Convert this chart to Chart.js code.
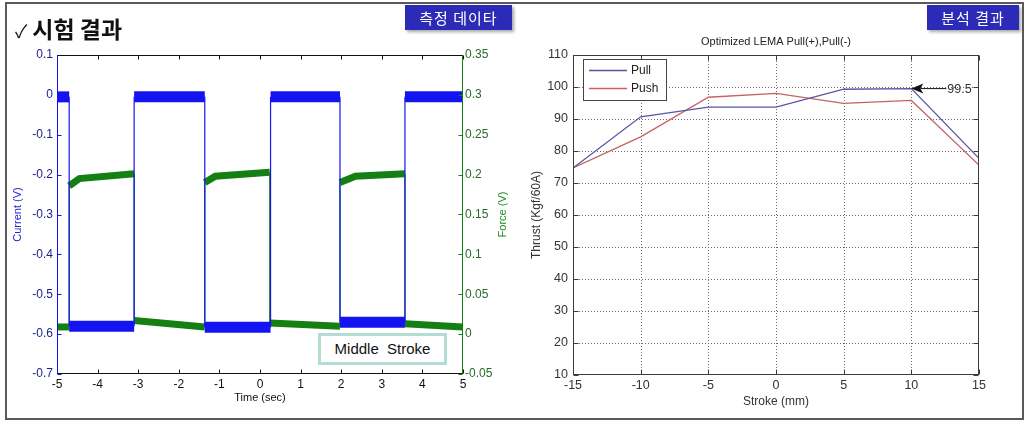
<!DOCTYPE html>
<html>
<head>
<meta charset="utf-8">
<script src="https://cdn.jsdelivr.net/npm/chart.js@4.4.1/dist/chart.umd.min.js"></script>
<style>
  html, body { margin: 0; padding: 0; background: #fff; }
  #wrap { position: relative; width: 1030px; height: 426px; overflow: hidden; font-family: "Liberation Sans", Arial, sans-serif; }
  .box { position: absolute; top: 0; width: 515px; height: 426px; }
  #leftBox { left: 0; }
  #rightBox { left: 515px; }
  #frame { position: absolute; left: 5px; top: 2px; width: 1019px; height: 418px; border: 2px solid #5a5a5a; box-sizing: border-box; }
  .tag { position: absolute; top: 5px; height: 25px; line-height: 25px; background: #2b2bb8; color: #fff;
         font-family: "Noto Sans CJK KR", sans-serif; font-size: 15px; text-align: center; letter-spacing: 1px;
         box-shadow: 2px 2px 3px rgba(0, 0, 0, 0.35); }
  #heading { position: absolute; left: 15px; top: 11px; font-family: "Noto Sans CJK KR", sans-serif; color: #111; white-space: nowrap; line-height: 34px; }
  #heading .chk { font-size: 18px; font-weight: normal; margin-right: 5px; }
  #heading .txt { font-size: 23px; font-weight: bold; }
  #stroke { position: absolute; left: 318px; top: 333px; width: 129px; height: 32px; box-sizing: border-box;
            border: 3px solid #b3dcd5; background: #fff; font-size: 15px; line-height: 26px; text-align: center; color: #111; }
</style>
</head>
<body>
<div id="wrap">
  <div class="box" id="leftBox"><canvas id="timeChart"></canvas></div>
  <div class="box" id="rightBox"><canvas id="thrustChart"></canvas></div>
  <div id="frame"></div>
  <div id="heading"><span class="chk">✓</span><span class="txt">시험 결과</span></div>
  <div class="tag" style="left:405px;width:107px;">측정 데이타</div>
  <div class="tag" style="left:927px;width:92px;">분석 결과</div>
  <div id="stroke">Middle&nbsp; Stroke</div>
</div>
<script>
const currentTime  = [-5, -4.70, -4.70, -3.10, -3.10, -1.36, -1.36, 0.26, 0.26, 1.97, 1.97, 3.57, 3.57, 5];
const currentValue = [-0.005, -0.005, -0.58, -0.58, -0.005, -0.005, -0.583, -0.583, -0.005, -0.005, -0.57, -0.57, -0.005, -0.005];

const forceTime  = [-5, -4.70, -4.70, -4.45, -3.10, -3.10, -1.36, -1.36, -1.10, 0.24, 0.24, 1.97, 1.97, 2.35, 3.57, 3.57, 5];
const forceValue = [0.009, 0.009, 0.186, 0.195, 0.201, 0.017, 0.009, 0.190, 0.198, 0.203, 0.014, 0.010, 0.190, 0.198, 0.201, 0.013, 0.009];

const timeTicks = [-5, -4, -3, -2, -1, 0, 1, 2, 3, 4, 5];
const timeLabels = ["-5", "-4", "-3", "-2", "-1", "0", "1", "2", "3", "4", "5"];
const currentTicks = [-0.7, -0.6, -0.5, -0.4, -0.3, -0.2, -0.1, 0, 0.1];
const currentLabels = ["-0.7", "-0.6", "-0.5", "-0.4", "-0.3", "-0.2", "-0.1", "0", "0.1"];
const forceTicks = [-0.05, 0, 0.05, 0.1, 0.15, 0.2, 0.25, 0.3, 0.35];
const forceLabels = ["-0.05", "0", "0.05", "0.1", "0.15", "0.2", "0.25", "0.3", "0.35"];

// right chart: thrust vs stroke
const strokePositions = [-15, -10, -5, 0, 5, 10, 15];
const pullThrust = [74.7, 90.7, 93.7, 93.7, 99.3, 99.5, 77.7];
const pushThrust = [74.7, 84.4, 96.8, 98.0, 94.9, 95.8, 75.6];
const strokeTicks = [-15, -10, -5, 0, 5, 10, 15];
const strokeLabels = ["-15", "-10", "-5", "0", "5", "10", "15"];
const thrustTicks = [10, 20, 30, 40, 50, 60, 70, 80, 90, 100, 110];
const thrustLabels = ["10", "20", "30", "40", "50", "60", "70", "80", "90", "100", "110"];
const peakStroke = 10;
const peakThrust = 99.5;

Chart.defaults.font.family = '"Liberation Sans", Arial, sans-serif';
Chart.defaults.animation = false;

const toXY = (xs, ys) => xs.map((x, i) => ({ x, y: ys[i] }));
const setTicks = (values) => (scale) => { scale.ticks = values.map((v) => ({ value: v })); };

// matlab style box with inward ticks, optional dotted grid
const matlabAxes = {
  id: "matlabAxes",
  beforeDatasetsDraw(chart, args, o) {
    if (!o.grid) return;
    const { ctx, chartArea: a, scales } = chart;
    ctx.save();
    ctx.strokeStyle = o.gridColor;
    ctx.lineWidth = 1;
    ctx.setLineDash([1, 2]);
    scales.x.ticks.forEach((t) => {
      const px = Math.round(scales.x.getPixelForValue(t.value)) + 0.5;
      if (px < a.left + 2 || px > a.right - 2) return;
      ctx.beginPath(); ctx.moveTo(px, a.top); ctx.lineTo(px, a.bottom); ctx.stroke();
    });
    scales.y.ticks.forEach((t) => {
      const py = Math.round(scales.y.getPixelForValue(t.value)) + 0.5;
      if (py < a.top + 2 || py > a.bottom - 2) return;
      ctx.beginPath(); ctx.moveTo(a.left, py); ctx.lineTo(a.right, py); ctx.stroke();
    });
    ctx.restore();
  },
  afterDatasetsDraw(chart, args, o) {
    const { ctx, chartArea: a, scales } = chart;
    const L = o.tickLen;
    const l = Math.round(a.left) + 0.5, r = Math.round(a.right) - 0.5;
    const t = Math.round(a.top) + 0.5, b = Math.round(a.bottom) - 0.5;
    const seg = (x1, y1, x2, y2, c) => {
      ctx.strokeStyle = c;
      ctx.beginPath(); ctx.moveTo(x1, y1); ctx.lineTo(x2, y2); ctx.stroke();
    };
    ctx.save();
    ctx.lineWidth = 1;
    scales.x.ticks.forEach((tk) => {
      const px = Math.round(scales.x.getPixelForValue(tk.value)) + 0.5;
      seg(px, b, px, b - L, o.bottom);
      seg(px, t, px, t + L, o.top);
    });
    scales[o.leftScale].ticks.forEach((tk) => {
      const py = Math.round(scales[o.leftScale].getPixelForValue(tk.value)) + 0.5;
      seg(l, py, l + L, py, o.left);
    });
    scales[o.rightScale].ticks.forEach((tk) => {
      const py = Math.round(scales[o.rightScale].getPixelForValue(tk.value)) + 0.5;
      seg(r, py, r - L, py, o.right);
    });
    seg(l - 0.5, t, r + 0.5, t, o.top);
    seg(l - 0.5, b, r + 0.5, b, o.bottom);
    seg(l, t, l, b, o.left);
    seg(r, t, r, b, o.right);
    ctx.restore();
  }
};

const forceTitle = {
  id: "forceTitle",
  afterDraw(chart) {
    const { ctx, chartArea: a } = chart;
    ctx.save();
    ctx.translate(a.right + 40, (a.top + a.bottom) / 2);
    ctx.rotate(-Math.PI / 2);
    ctx.font = '11px "Liberation Sans", Arial, sans-serif';
    ctx.fillStyle = "#1f8a1f";
    ctx.textAlign = "center";
    ctx.textBaseline = "middle";
    ctx.fillText("Force (V)", 0, 0);
    ctx.restore();
  }
};

const thrustExtras = {
  id: "thrustExtras",
  afterDatasetsDraw(chart) {
    const { ctx, chartArea: a, scales } = chart;
    ctx.save();
    // title
    ctx.font = '11px "Liberation Sans", Arial, sans-serif';
    ctx.fillStyle = "#222";
    ctx.textAlign = "center";
    ctx.textBaseline = "middle";
    ctx.fillText("Optimized LEMA Pull(+),Pull(-)", (a.left + a.right) / 2, a.top - 13);

    // legend
    const lx = a.left + 10, ly = a.top + 4;
    ctx.fillStyle = "#fff";
    ctx.fillRect(lx, ly, 83, 41);
    ctx.strokeStyle = "#444";
    ctx.lineWidth = 1;
    ctx.strokeRect(lx + 0.5, ly + 0.5, 83, 41);
    ctx.font = '12px "Liberation Sans", Arial, sans-serif';
    ctx.textAlign = "left";
    chart.data.datasets.forEach((ds, i) => {
      const yy = ly + 11.5 + i * 18;
      ctx.strokeStyle = ds.borderColor;
      ctx.lineWidth = 1.3;
      ctx.beginPath(); ctx.moveTo(lx + 6, yy); ctx.lineTo(lx + 44, yy); ctx.stroke();
      ctx.fillStyle = "#222";
      ctx.fillText(ds.label, lx + 48, yy);
    });

    // peak annotation
    const px = scales.x.getPixelForValue(peakStroke);
    const py = scales.y.getPixelForValue(peakThrust);
    ctx.fillStyle = "#111";
    ctx.strokeStyle = "#111";
    ctx.lineWidth = 1;
    ctx.beginPath();
    ctx.moveTo(px, py);
    ctx.lineTo(px + 12, py - 5);
    ctx.lineTo(px + 9, py);
    ctx.lineTo(px + 12, py + 5);
    ctx.closePath();
    ctx.fill();
    ctx.beginPath(); ctx.moveTo(px + 9, py); ctx.lineTo(px + 35, py); ctx.stroke();
    ctx.font = '12.5px "Liberation Sans", Arial, sans-serif';
    ctx.fillStyle = "#333";
    ctx.textAlign = "left";
    ctx.fillText(String(peakThrust), px + 36, py + 1);
    ctx.restore();
  }
};

const flatOrStep = (thick) => (c) => (c.p0.parsed.x === c.p1.parsed.x ? 1.2 : thick);

new Chart(document.getElementById("timeChart"), {
  type: "line",
  data: {
    datasets: [
      {
        label: "Current",
        data: toXY(currentTime, currentValue),
        yAxisID: "y",
        borderColor: "#1414f2",
        borderWidth: 1.2,
        pointRadius: 0,
        tension: 0,
        order: 0,
        segment: { borderWidth: flatOrStep(11) }
      },
      {
        label: "Force",
        data: toXY(forceTime, forceValue),
        yAxisID: "y2",
        borderColor: "#148014",
        borderWidth: 1.2,
        pointRadius: 0,
        tension: 0,
        order: 1,
        segment: { borderWidth: flatOrStep(7) }
      }
    ]
  },
  options: {
    responsive: true,
    maintainAspectRatio: false,
    layout: { padding: { top: 55, left: 0, right: 0, bottom: 0 } },
    plugins: {
      legend: { display: false },
      tooltip: { enabled: false },
      matlabAxes: { tickLen: 4, grid: false, top: "#111", bottom: "#111", left: "#1414f2", right: "#148014", leftScale: "y", rightScale: "y2" }
    },
    scales: {
      x: {
        type: "linear",
        position: "bottom",
        min: -5,
        max: 5,
        afterBuildTicks: setTicks(timeTicks),
        afterFit: (s) => { s.height = 52; },
        grid: { display: false, drawTicks: false },
        border: { display: false },
        ticks: { color: "#111", font: { size: 12 }, padding: 3, maxRotation: 0, autoSkip: false, callback: (v, i) => timeLabels[i] },
        title: { display: true, text: "Time (sec)", color: "#111", font: { size: 11 }, padding: { top: 0, bottom: 21 } }
      },
      y: {
        type: "linear",
        position: "left",
        min: -0.7,
        max: 0.1,
        afterBuildTicks: setTicks(currentTicks),
        afterFit: (s) => { s.width = 57; },
        grid: { display: false, drawTicks: false },
        border: { display: false },
        ticks: { color: "#1c1c8c", font: { size: 12 }, padding: 4, autoSkip: false, callback: (v, i) => currentLabels[i] },
        title: { display: true, text: "Current (V)", color: "#2222cc", font: { size: 11 }, padding: { top: 11, bottom: 0 } }
      },
      y2: {
        type: "linear",
        position: "right",
        min: -0.05,
        max: 0.35,
        afterBuildTicks: setTicks(forceTicks),
        afterFit: (s) => { s.width = 52; },
        grid: { display: false, drawTicks: false },
        border: { display: false },
        ticks: { color: "#2a6a2a", font: { size: 12 }, padding: 2, autoSkip: false, callback: (v, i) => forceLabels[i] }
      }
    }
  },
  plugins: [matlabAxes, forceTitle]
});

new Chart(document.getElementById("thrustChart"), {
  type: "line",
  data: {
    datasets: [
      {
        label: "Pull",
        data: toXY(strokePositions, pullThrust),
        borderColor: "#5656a6",
        borderWidth: 1.3,
        pointRadius: 0,
        tension: 0
      },
      {
        label: "Push",
        data: toXY(strokePositions, pushThrust),
        borderColor: "#c66262",
        borderWidth: 1.3,
        pointRadius: 0,
        tension: 0
      }
    ]
  },
  options: {
    responsive: true,
    maintainAspectRatio: false,
    layout: { padding: { top: 55, left: 0, right: 51, bottom: 0 } },
    plugins: {
      legend: { display: false },
      tooltip: { enabled: false },
      matlabAxes: { tickLen: 5, grid: true, gridColor: "#6a6a6a", top: "#3c3c3c", bottom: "#3c3c3c", left: "#3c3c3c", right: "#3c3c3c", leftScale: "y", rightScale: "y" }
    },
    scales: {
      x: {
        type: "linear",
        min: -15,
        max: 15,
        afterBuildTicks: setTicks(strokeTicks),
        afterFit: (s) => { s.height = 51; },
        grid: { display: false, drawTicks: false },
        border: { display: false },
        ticks: { color: "#333", font: { size: 12.5 }, padding: 3, maxRotation: 0, autoSkip: false, callback: (v, i) => strokeLabels[i] },
        title: { display: true, text: "Stroke (mm)", color: "#333", font: { size: 12 }, padding: { top: 0, bottom: 17 } }
      },
      y: {
        type: "linear",
        min: 10,
        max: 110,
        afterBuildTicks: setTicks(thrustTicks),
        afterFit: (s) => { s.width = 58; },
        grid: { display: false, drawTicks: false },
        border: { display: false },
        ticks: { color: "#333", font: { size: 12.5 }, padding: 5, autoSkip: false, callback: (v, i) => thrustLabels[i] },
        title: { display: true, text: "Thrust (Kgf/60A)", color: "#333", font: { size: 12 }, padding: { top: 14, bottom: 0 } }
      }
    }
  },
  plugins: [matlabAxes, thrustExtras]
});
</script>
</body>
</html>
